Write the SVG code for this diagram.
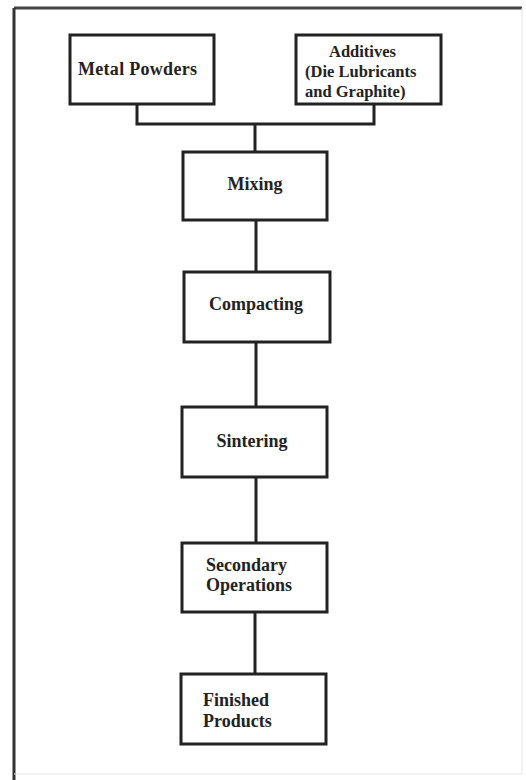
<svg xmlns="http://www.w3.org/2000/svg" width="526" height="780" viewBox="0 0 526 780">
<style>
.box{fill:#fff;stroke:#222;stroke-width:3}
.t{font-weight:bold;font-size:18px;fill:#222}
.ts{font-size:16.5px}
.c{fill:none;stroke:#222;stroke-width:3}
</style>
<rect width="526" height="780" fill="#fff"/>
<g id="frame">
<line x1="14" y1="8" x2="522" y2="8" stroke="#444" stroke-width="3"/>
<line x1="14" y1="8" x2="14" y2="780" stroke="#333" stroke-width="3"/>
<line x1="522" y1="8" x2="522" y2="774" stroke="#e4e4e4" stroke-width="1"/>
<line x1="14" y1="774" x2="522" y2="774" stroke="#e8e8e8" stroke-width="1"/>
</g>
<g id="connectors">
<polyline class="c" points="137,104 137,124 374,124 374,104"/>
<line class="c" x1="255" y1="124" x2="255" y2="152"/>
<line class="c" x1="256" y1="220" x2="256" y2="272"/>
<line class="c" x1="256" y1="342" x2="256" y2="407"/>
<line class="c" x1="256" y1="477" x2="256" y2="543"/>
<line class="c" x1="255" y1="612" x2="255" y2="674"/>
</g>
<g font-family="'Liberation Serif', 'DejaVu Serif', serif">
<g id="metal-powders">
<rect class="box" x="70" y="35" width="144" height="69"/>
<text class="t" x="78" y="75" textLength="119">Metal Powders</text>
</g>
<g id="additives">
<rect class="box" x="296" y="35" width="145" height="69"/>
<text class="t ts" x="329" y="57">Additives</text>
<text class="t ts" x="305" y="77">(Die Lubricants</text>
<text class="t ts" x="305" y="97">and Graphite)</text>
</g>
<g id="mixing">
<rect class="box" x="183" y="152" width="144" height="68"/>
<text class="t" x="255" y="190" text-anchor="middle">Mixing</text>
</g>
<g id="compacting">
<rect class="box" x="184" y="272" width="146" height="70"/>
<text class="t" x="256" y="310" text-anchor="middle">Compacting</text>
</g>
<g id="sintering">
<rect class="box" x="182" y="407" width="145" height="70"/>
<text class="t" x="252" y="447" text-anchor="middle">Sintering</text>
</g>
<g id="secondary-operations">
<rect class="box" x="182" y="543" width="145" height="69"/>
<text class="t" x="206" y="571">Secondary</text>
<text class="t" x="206" y="591">Operations</text>
</g>
<g id="finished-products">
<rect class="box" x="181" y="674" width="145" height="70"/>
<text class="t" x="203" y="706">Finished</text>
<text class="t" x="203" y="727">Products</text>
</g>
</g>
</svg>
